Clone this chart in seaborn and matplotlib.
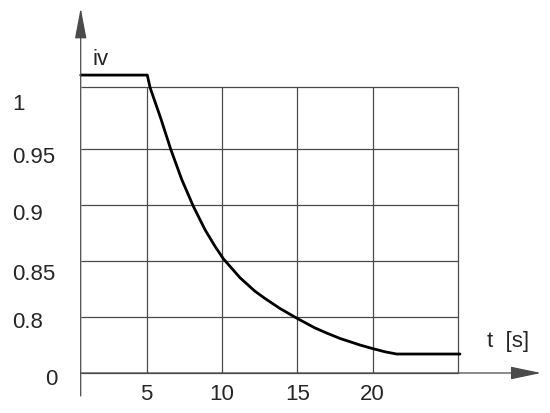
import numpy as np
import matplotlib
matplotlib.use('Agg')
import matplotlib.pyplot as plt
from matplotlib.transforms import offset_copy
import seaborn as sns

# curve: time [s] and iv value
time_s = [0.62, 5.04, 5.22, 5.93, 6.59, 7.32, 8.09, 8.87, 9.54, 10.09, 11.2,
          12.19, 12.86, 13.85, 15.0, 16.18, 16.95, 17.84, 19.16, 19.98,
          20.82, 21.6, 25.8]
iv = [1.01, 1.01, 1.0, 0.975, 0.95, 0.923, 0.899, 0.878, 0.863, 0.852, 0.835,
      0.823, 0.8165, 0.8076, 0.779, 0.643, 0.571, 0.493, 0.40, 0.35,
      0.303, 0.271, 0.271]

x_ticks = [5, 10, 15, 20]
x_tick_labels = ['5', '10', '15', '20']
y_ticks = [0, 0.8, 0.85, 0.9, 0.95, 1.0]
y_tick_labels = ['0', '0.8', '0.85', '0.9', '0.95', '1']
t_end = 25.7

# broken y axis: value -> grid row position
brk_vals = [-1.6, 0, 0.8, 0.85, 0.9, 0.95, 1.0, 1.1]
brk_pos = [-2, 0, 1, 2, 3, 4, 5.1, 7.3]

def fwd(v):
    return np.interp(v, brk_vals, brk_pos)

def inv(p):
    return np.interp(p, brk_pos, brk_vals)

# helpers to place layout items by image pixel (from top-left)
def xpx(px):
    return (px - 71.4) / 15.06

def ypx(py):
    return float(inv((374 - py) / 56))

sns.set_theme(style='white')
plt.rcParams['font.family'] = ['Liberation Sans', 'DejaVu Sans']

fig = plt.figure(figsize=(5.5, 4.14), dpi=100)
ax = fig.add_axes([0, 0, 1, 1])
ax.set_yscale('function', functions=(fwd, inv))
ax.set_xlim(xpx(0), xpx(550))
ax.set_ylim(ypx(414), ypx(0))
ax.axis('off')

grid_col = '#4a4a4a'
x0 = xpx(80.7)

# grid
ax.hlines(y_ticks, x0, t_end, color=grid_col, lw=0.9)
ax.vlines(x_ticks + [t_end], 0, 1.0, color=grid_col, lw=0.9)

# axes with arrows
ax.annotate('', xy=(x0, ypx(9)), xytext=(x0, ypx(397)),
            arrowprops=dict(arrowstyle='-|>,head_length=1.9,head_width=0.36',
                            mutation_scale=10, lw=0.9, color=grid_col,
                            shrinkA=0, shrinkB=0))
ax.annotate('', xy=(xpx(541), 0), xytext=(x0, 0),
            arrowprops=dict(arrowstyle='-|>,head_length=1.9,head_width=0.4',
                            mutation_scale=10, lw=0.9, color=grid_col,
                            shrinkA=0, shrinkB=0))

# curve
sns.lineplot(x=time_s, y=iv, ax=ax, color='black', lw=2.0,
             sort=False, estimator=None, solid_joinstyle='round')

# tick labels
fs = 16
y_off = [6, 4, 12, 8, 7, 16]
for val, lab, off in zip(y_ticks, y_tick_labels, y_off):
    tr = offset_copy(ax.transData, fig=fig, x=0, y=-off, units='dots')
    if lab == '0':
        ax.text(xpx(58), val, lab, transform=tr, ha='right', va='center', fontsize=fs)
    else:
        ax.text(xpx(12), val, lab, transform=tr, ha='left', va='center', fontsize=fs)

tr_x = offset_copy(ax.transData, fig=fig, x=0, y=-21, units='dots')
for val, lab in zip(x_ticks, x_tick_labels):
    ax.text(val, 0, lab, transform=tr_x, ha='center', va='center', fontsize=fs)

# axis names
ax.text(xpx(92), ypx(65), 'iv', ha='left', va='baseline', fontsize=fs)
ax.text(xpx(487), ypx(347), 't  [s]', ha='left', va='baseline', fontsize=fs)

fig.savefig('out.png', dpi=100)
